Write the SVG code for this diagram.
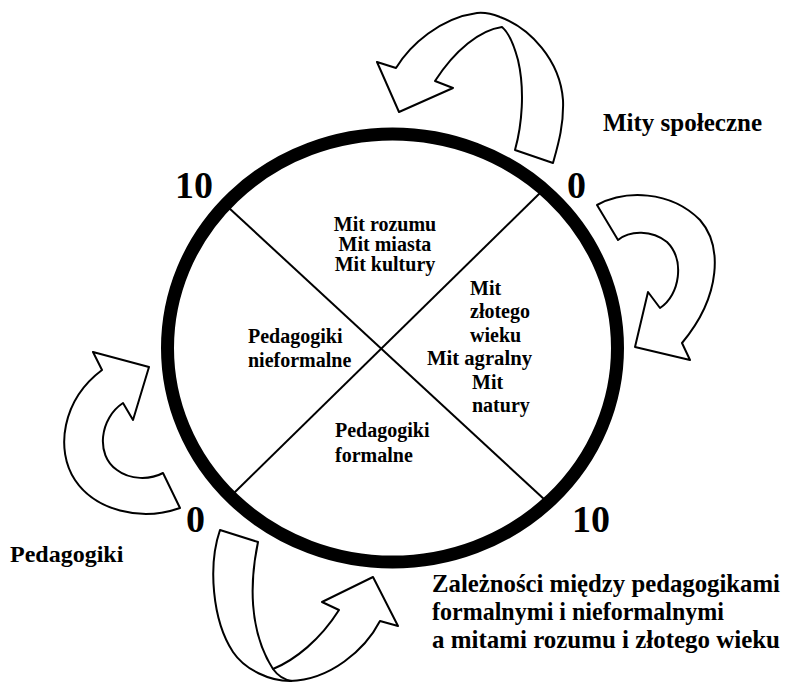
<svg xmlns="http://www.w3.org/2000/svg" width="789" height="682" viewBox="0 0 789 682">
<style>
.t{font-family:"Liberation Serif","Times New Roman",serif;font-weight:bold;fill:#000}
.in{font-size:20px}
.num{font-size:38px}
.ttl{font-size:25px}
.arr{fill:#fff;stroke:#000;stroke-width:2;stroke-linejoin:round}
</style>
<rect width="789" height="682" fill="#fff"/>
<g id="arrows">
<path class="arr" d="M399,112 L377,62 L396,68 C410,45 440,18 477,13 C488,12 495,15 500,17 C530,28 560,60 563,100 C564,125 558,145 553,163 L515,150 C522,125 525,90 518,60 C514,45 508,32 502,27 C480,30 455,50 435,81 L453,88 Z"/>
<path class="arr" d="M597,205 C625,190 670,190 700,220 C722,245 722,295 682,343 L690,360 L635,347 L648,292 L660,308 C680,295 685,260 667,242 C652,230 630,230 618,240 Z"/>
<path class="arr" d="M180,508 C140,522 95,510 75,480 C55,450 62,400 102,370 L93,352 L149,367 L133,420 L123,403 C100,418 95,455 117,470 C130,480 150,480 163,473 Z"/>
<path class="arr" d="M220,530 L258,542 C250,580 248,630 273,669 C295,660 320,640 339,610 L322,602 L373,577 L398,626 L380,621 C365,650 330,680 290,681 C270,681 245,670 233,652 C212,620 208,565 220,530 Z"/>
<path fill="none" stroke="#000" stroke-width="2" d="M273,669 C278,676 285,680 292,681"/>
</g>
<g id="circle">
<ellipse cx="392.5" cy="348" rx="225" ry="214" fill="none" stroke="#000" stroke-width="13"/>
<line x1="229" y1="208" x2="545" y2="500" stroke="#000" stroke-width="2"/>
<line x1="540" y1="193" x2="234" y2="493" stroke="#000" stroke-width="2"/>
</g>
<g id="numbers">
<text class="t num" x="175" y="198">10</text>
<text class="t num" x="567" y="198">0</text>
<text class="t num" x="186" y="532">0</text>
<text class="t num" x="572" y="532">10</text>
</g>
<g id="q-top">
<text class="t in" x="385" y="231" text-anchor="middle">Mit rozumu</text>
<text class="t in" x="385" y="251" text-anchor="middle">Mit miasta</text>
<text class="t in" x="385" y="271" text-anchor="middle">Mit kultury</text>
</g>
<g id="q-right">
<text class="t in" x="470" y="295">Mit</text>
<text class="t in" x="470" y="318">złotego</text>
<text class="t in" x="470" y="342">wieku</text>
<text class="t in" x="427" y="365" textLength="105" lengthAdjust="spacingAndGlyphs">Mit agralny</text>
<text class="t in" x="472" y="389">Mit</text>
<text class="t in" x="472" y="412">natury</text>
</g>
<g id="q-left">
<text class="t in" x="248" y="343">Pedagogiki</text>
<text class="t in" x="248" y="367">nieformalne</text>
</g>
<g id="q-bottom">
<text class="t in" x="335" y="437">Pedagogiki</text>
<text class="t in" x="335" y="462">formalne</text>
</g>
<g id="labels">
<text class="t" x="603" y="131" font-size="25">Mity społeczne</text>
<text class="t" x="10" y="562" font-size="24">Pedagogiki</text>
<text class="t ttl" x="432" y="592" textLength="348" lengthAdjust="spacingAndGlyphs">Zależności między pedagogikami</text>
<text class="t ttl" x="432" y="620" textLength="292" lengthAdjust="spacingAndGlyphs">formalnymi i nieformalnymi</text>
<text class="t ttl" x="432" y="648" textLength="348" lengthAdjust="spacingAndGlyphs">a mitami rozumu i złotego wieku</text>
</g>
</svg>
